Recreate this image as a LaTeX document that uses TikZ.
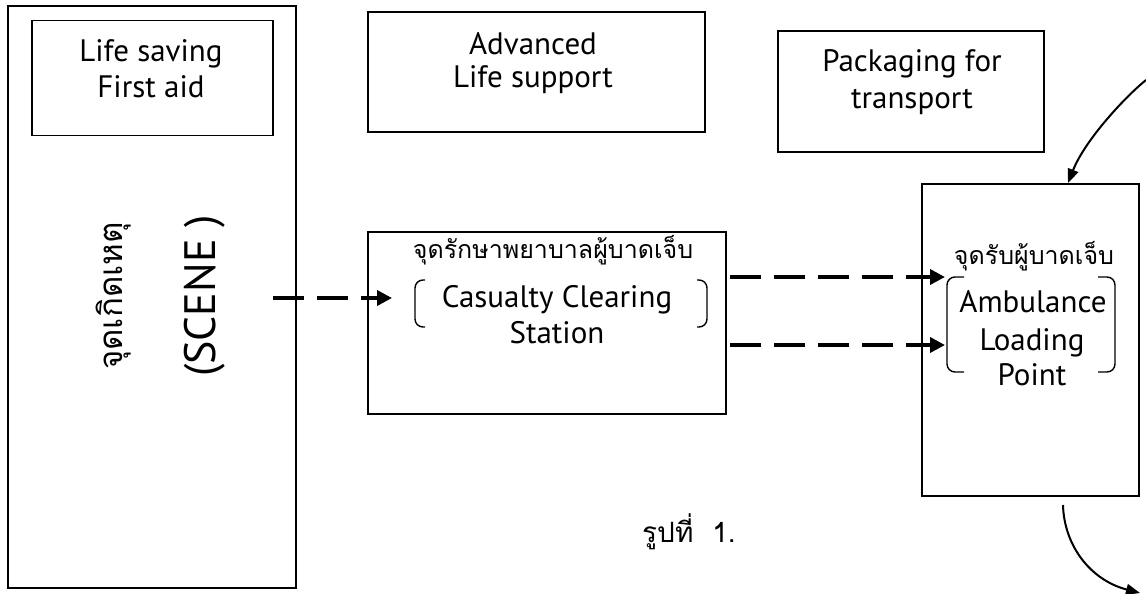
\documentclass[tikz,border=0pt]{standalone}
\usepackage{fontspec}
\setmainfont{PT Sans}
\newfontfamily\thaifont[Script=Thai]{Loma}
\usetikzlibrary{arrows.meta}

\tikzset{
  frame/.style={draw, line width=1.6pt, inner sep=0pt},
  lbl/.style={anchor=base, inner sep=0pt, font=\fontsize{31pt}{36pt}\selectfont},
  thlbl/.style={anchor=base, inner sep=0pt, font=\thaifont\fontsize{25pt}{30pt}\selectfont},
  dasharrow/.style={line width=3.6pt, dash pattern=on 31pt off 13pt,
    -{Triangle[length=15pt,width=15pt]}},
  curvearrow/.style={line width=2pt, -{Triangle[length=14pt,width=11pt]}},
  bracket/.style={line width=1.4pt, rounded corners=8pt},
}

\begin{document}
\begin{tikzpicture}[x=1pt, y=-1pt]
\useasboundingbox[fill=white] (0,0) rectangle (1146,594);

% boxes
\node[frame, minimum width=288pt, minimum height=582pt] (scene) at (152,297) {};
\node[frame, minimum width=241pt, minimum height=115pt] (lifesaving) at (152.5,78) {};
\node[frame, minimum width=337pt, minimum height=120pt] (als) at (536.5,72) {};
\node[frame, minimum width=266pt, minimum height=121pt] (packaging) at (911,91.5) {};
\node[frame, minimum width=358pt, minimum height=182pt] (ccs) at (547,323) {};
\node[frame, minimum width=217pt, minimum height=312pt] (alp) at (1030.5,340) {};

% box texts
\node[lbl] (ls1) at (151,62) {Life saving};
\node[lbl] (ls2) at (151,97) {First aid};
\node[lbl] (als1) at (533,55) {Advanced};
\node[lbl] (als2) at (533,88) {Life support};
\node[lbl] (pk1) at (912,72) {Packaging for};
\node[lbl] (pk2) at (912,108) {transport};

\node[inner sep=0pt, rotate=90, font=\thaifont\fontsize{33pt}{38pt}\selectfont]
  (scenethai) at (114,296) {จุดเกิดเหตุ};
\node[inner sep=0pt, rotate=90, font=\fontsize{44pt}{50pt}\selectfont]
  (sceneen) at (205,296) {(SCENE )};

\node[thlbl] (ccsthai) at (553,258) {จุดรักษาพยาบาลผู้บาดเจ็บ};
\node[lbl] (ccs1) at (557,307) {Casualty Clearing};
\node[lbl] (ccs2) at (557,343) {Station};

\node[thlbl] (alpthai) at (1034,264) {จุดรับผู้บาดเจ็บ};
\node[lbl] (alp1) at (1033,312) {Ambulance};
\node[lbl] (alp2) at (1032,350) {Loading};
\node[lbl] (alp3) at (1032,385) {Point};

\node[anchor=base west, inner sep=0pt, font=\thaifont\fontsize{28pt}{32pt}\selectfont]
  (fig) at (642,542) {รูปที่\ \ 1.};

% brackets around the English names
\draw[bracket] (425,280) -- (415,280) -- (415,327) -- (425,327);
\draw[bracket] (697,280) -- (707,280) -- (707,327) -- (697,327);
\draw[bracket] (964,277) -- (947,277) -- (947,372) -- (964,372);
\draw[bracket] (1098,277) -- (1115,277) -- (1115,372) -- (1098,372);

% connector end points
\coordinate (sceneout) at (273,298);
\coordinate (ccsin) at (392,298);
\coordinate (ccsout1) at (730,277);
\coordinate (alpin1) at (945,277);
\coordinate (ccsout2) at (730,345);
\coordinate (alpin2) at (945,345);
\coordinate (incoming) at (1146,80);
\coordinate (alptop) at (1068,183);
\coordinate (alpbottom) at (1063,505);
\coordinate (outgoing) at (1140,593);

% connectors
\draw[dasharrow] (sceneout) -- (ccsin);
\draw[dasharrow] (ccsout1) -- (alpin1);
\draw[dasharrow] (ccsout2) -- (alpin2);
\draw[curvearrow] (incoming) .. controls (1125,97) and (1085,140) .. (alptop);
\draw[curvearrow] (alpbottom) .. controls (1064,545) and (1090,580) .. (outgoing);
\end{tikzpicture}
\end{document}
